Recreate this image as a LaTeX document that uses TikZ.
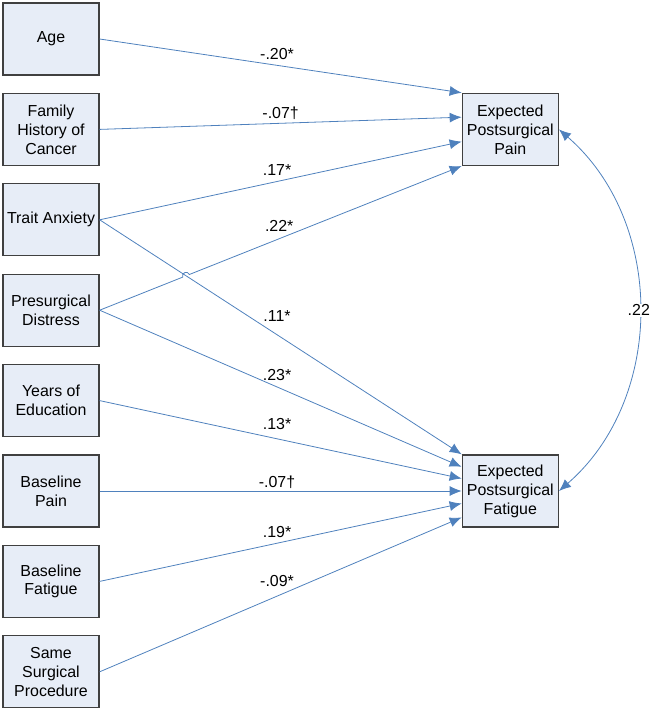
\documentclass[tikz,border=0pt]{standalone}
\usepackage{fontspec}
\setmainfont{Liberation Sans}
\usetikzlibrary{positioning}
\usetikzlibrary{calc}
\usetikzlibrary{intersections}
\usetikzlibrary{arrows.meta}
\definecolor{boxfill}{RGB}{231,237,247}
\definecolor{boxline}{RGB}{64,64,64}
\definecolor{pathblue}{RGB}{79,129,189}

\begin{document}
\begin{tikzpicture}[x=1bp,y=-1bp,node distance=17.1bp,
  >={Latex[length=12bp,width=10bp]},
  var/.style={draw=boxline,fill=boxfill,line width=1.3bp,minimum width=96bp,minimum height=72bp,inner sep=1bp,align=center,font=\fontsize{16}{19}\selectfont},
  effect/.style={draw=pathblue,fill=none,line width=0.8bp,->},
  coef/.style={font=\fontsize{16}{19}\selectfont,inner sep=1bp}]
  \useasboundingbox (0,0) rectangle (657,712);
  % predictors
  \node[var](age) at (51,39) {Age};
  \node[var,below= of age](family) {Family\\History of\\Cancer};
  \node[var,below= of family](trait) {Trait Anxiety};
  \node[var,below= of trait](distress) {Presurgical\\Distress};
  \node[var,below= of distress](educ) {Years of\\Education};
  \node[var,below= of educ](bpain) {Baseline\\Pain};
  \node[var,below= of bpain](bfatigue) {Baseline\\Fatigue};
  \node[var,below= of bfatigue](proc) {Same\\Surgical\\Procedure};
  % outcomes
  \node[var,right=362bp of family](pain) {Expected\\Postsurgical\\Pain};
  \node[var,right=362bp of bpain](fatigue) {Expected\\Postsurgical\\Fatigue};
  \coordinate (p1) at ($(pain.north west)!1/3!(pain.south west)$);
  \coordinate (p2) at ($(pain.north west)!2/3!(pain.south west)$);
  \foreach \i/\f in {1/.17,2/.33,3/.5,4/.67,5/.86}
    \coordinate (f\i) at ($(fatigue.north west)!\f!(fatigue.south west)$);
  % paths to pain
  \draw[effect] (age.east) -- node[coef,pos=.49,yshift=11bp]{-.20*} (pain.north west);
  \draw[effect] (family.east) -- node[coef,pos=.5,yshift=10bp]{-.07†} (p1);
  \draw[effect] (trait.east) -- node[coef,pos=.49,yshift=11bp]{.17*} (p2);
  \draw[effect,name path=ta] (trait.east) -- node[coef,pos=.49,yshift=19bp]{.11*} (fatigue.north west);
  \path[name path=dp] (distress.east) -- (pain.south west);
  \path[name intersections={of=ta and dp,by=hop}];
  \draw[effect] (distress.east) -- ($(hop)!3.5bp!(distress.east)$)
    arc[start angle=201.6,end angle=21.6,radius=3.5bp]
    -- node[coef,pos=.33,yshift=13bp]{.22*} (pain.south west);
  % paths to fatigue
  \draw[effect] (distress.east) -- node[coef,pos=.49,yshift=12bp]{.23*} (f1);
  \draw[effect] (educ.east) -- node[coef,pos=.49,yshift=15bp]{.13*} (f2);
  \draw[effect] (bpain.east) -- node[coef,pos=.49,yshift=9bp]{-.07†} (f3);
  \draw[effect] (bfatigue.east) -- node[coef,pos=.49,yshift=11bp]{.19*} (f4);
  \draw[effect] (proc.east) -- node[coef,pos=.49,yshift=15bp]{-.09*} (f5);
  % correlation
  \draw[effect,<->] (pain.east) to[bend left=49] node[coef,fill=white,pos=.5]{.22} (fatigue.east);
\end{tikzpicture}
\end{document}
